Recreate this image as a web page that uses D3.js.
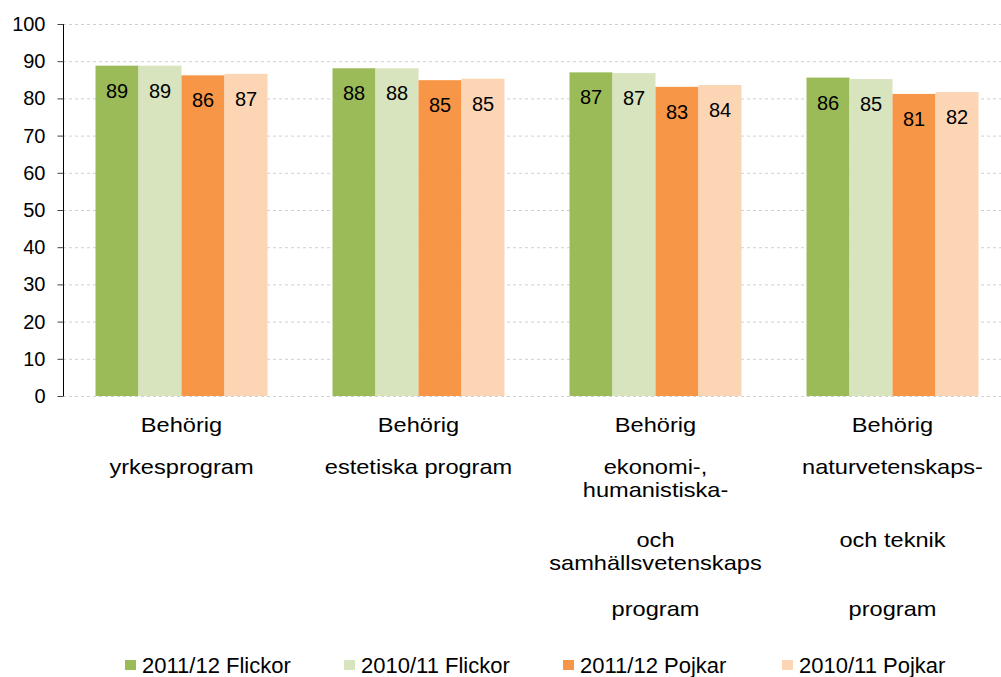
<!DOCTYPE html>
<html>
<head>
<meta charset="utf-8">
<script src="https://cdn.jsdelivr.net/npm/d3@7/dist/d3.min.js"></script>
<style>
  html, body { margin: 0; padding: 0; background: #fff; }
  text { font-family: "Liberation Sans", Arial, sans-serif; fill: #000; }
</style>
</head>
<body>
<svg id="chart" width="1001" height="677"></svg>
<script>
// ---- data ----
const categories = ["yrkes", "estetiska", "ekonomi", "natur"];
const categoryLabels = [
  [["Behörig"], ["yrkesprogram"]],
  [["Behörig"], ["estetiska program"]],
  [["Behörig"], ["ekonomi-,", "humanistiska-"], ["och", "samhällsvetenskaps"], ["program"]],
  [["Behörig"], ["naturvetenskaps-"], ["och teknik"], ["program"]]
];
const seriesNames = ["2011/12 Flickor", "2010/11 Flickor", "2011/12 Pojkar", "2010/11 Pojkar"];
const flickor1112 = [88.8, 88.1, 87.0, 85.6];
const flickor1011 = [88.8, 88.1, 86.8, 85.2];
const pojkar1112  = [86.2, 84.9, 83.1, 81.2];
const pojkar1011  = [86.6, 85.3, 83.6, 81.7];
const labels1 = [89, 88, 87, 86];
const labels2 = [89, 88, 87, 85];
const labels3 = [86, 85, 83, 81];
const labels4 = [87, 85, 84, 82];
const yTicks = [0, 10, 20, 30, 40, 50, 60, 70, 80, 90, 100];

const seriesValues = [flickor1112, flickor1011, pojkar1112, pojkar1011];
const seriesLabels = [labels1, labels2, labels3, labels4];
const colors = ["#9BBB59", "#D7E4BD", "#F79646", "#FCD5B5"];

// ---- layout ----
const svg = d3.select("#chart");
const mLeft = 63, mTop = 24, mBottom = 396, step = 237;
const fontSize = 20, catFontSize = 20, catStretch = 1.18, legendFontSize = 22;

const x = d3.scaleBand().domain(categories)
  .range([mLeft, mLeft + step * categories.length])
  .paddingInner(65 / 237).paddingOuter(32.5 / 237);
const xs = d3.scaleBand().domain(seriesNames).range([0, x.bandwidth()]);
const y = d3.scaleLinear().domain([0, 100]).range([mBottom, mTop]);

// gridlines
svg.append("g").selectAll("line").data(yTicks).join("line")
  .attr("x1", mLeft).attr("x2", 1001)
  .attr("y1", d => y(d) + 0.5).attr("y2", d => y(d) + 0.5)
  .attr("stroke", "#d0d0d0").attr("stroke-width", 1)
  .attr("stroke-dasharray", "3,3");

// bars
const groups = svg.append("g").selectAll("g").data(seriesNames).join("g")
  .attr("fill", (d, i) => colors[i]);
const rows = (s, i) => categories.map((c, j) => ({ c, s, v: seriesValues[i][j], l: seriesLabels[i][j] }));
groups.selectAll("rect").data(rows)
  .join("rect")
  .attr("x", d => x(d.c) + xs(d.s))
  .attr("width", xs.bandwidth())
  .attr("y", d => y(d.v))
  .attr("height", d => y(0) - y(d.v));

// data labels
groups.selectAll("text").data(rows)
  .join("text")
  .attr("x", d => x(d.c) + xs(d.s) + xs.bandwidth() / 2)
  .attr("y", d => y(d.v) + 32)
  .attr("text-anchor", "middle")
  .style("font-size", fontSize + "px")
  .style("fill", "#000")
  .text(d => d.l);

// y axis
const yAxis = d3.axisLeft(y).tickValues(yTicks).tickSize(6).tickPadding(12).tickFormat(d3.format("d"));
const ya = svg.append("g").attr("transform", `translate(${mLeft + 0.5},0)`).call(yAxis);
ya.select(".domain").attr("stroke", "#000").attr("d", `M0,${mTop}V${mBottom}`);
ya.selectAll(".tick line").attr("stroke", "#444");
ya.selectAll(".tick text").style("font-size", fontSize + "px").style("font-family", "'Liberation Sans', Arial, sans-serif").attr("fill", "#000");

// category labels
const slotOffsets = [36, 78, 151, 220];
const subLine = 23;
const cl = svg.append("g");
categories.forEach((c, i) => {
  const cx = x(c) + x.bandwidth() / 2;
  categoryLabels[i].forEach((para, p) => {
    para.forEach((line, k) => {
      cl.append("text")
        .attr("transform", `translate(${cx},${mBottom + slotOffsets[p] + k * subLine}) scale(${catStretch},1)`)
        .attr("text-anchor", "middle")
        .style("font-size", catFontSize + "px")
        .text(line);
    });
  });
});

// legend
const legendX = [125, 344, 563, 782];
const lg = svg.append("g").selectAll("g").data(seriesNames).join("g")
  .attr("transform", (d, i) => `translate(${legendX[i]},660)`);
lg.append("rect").attr("width", 11).attr("height", 10).attr("fill", (d, i) => colors[i]);
lg.append("text").attr("x", 17).attr("y", 13).style("font-size", legendFontSize + "px").text(d => d);
</script>
</body>
</html>
